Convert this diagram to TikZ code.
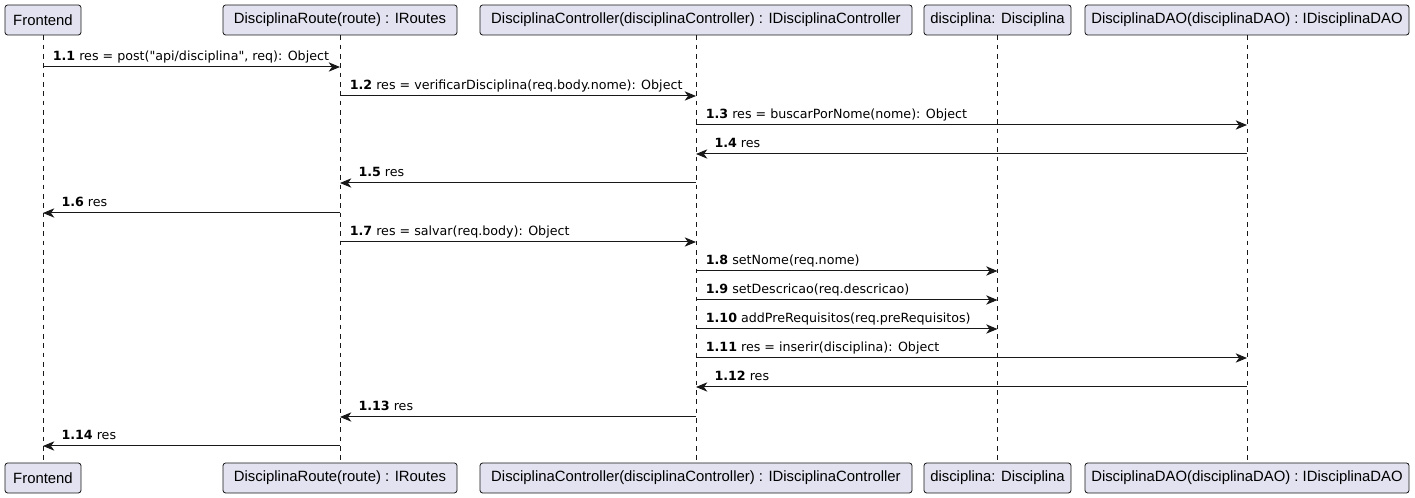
\documentclass[tikz,border=0pt]{standalone}
\usepackage{fontspec}
\setmainfont{Liberation Sans}
\newfontfamily\msgfont{DejaVu Sans}
\usetikzlibrary{arrows.meta, positioning, calc}

\definecolor{umlfill}{HTML}{E2E2F0}
\definecolor{umlline}{HTML}{181818}

\begin{document}
\begin{tikzpicture}[
    x=0.75pt, y=-0.75pt,
    part/.style={
        draw=umlline, fill=umlfill, rounded corners=2pt,
        line width=0.6pt, minimum height=30*0.75pt,
        inner xsep=0pt, font=\fontsize{11.15}{13}\selectfont
    },
    life/.style={draw=umlline, dashed, line width=0.4pt, dash pattern=on 3.5pt off 3.5pt},
    msg/.style={draw=umlline, line width=0.75pt,
        -{Stealth[length=8.5pt, width=7pt, inset=2.5pt]}},
    rlab/.style={pos=0, anchor=base west, xshift=7pt, yshift=4.5pt,
        inner sep=0pt, font=\msgfont\fontsize{9.5}{11}\selectfont},
    llab/.style={pos=1, anchor=base west, xshift=13.5pt, yshift=4.5pt,
        inner sep=0pt, font=\msgfont\fontsize{9.5}{11}\selectfont},
]
\useasboundingbox (0,0) rectangle (1415,498);

% --- participants (top row) ---
\node[part, minimum width=76*0.75pt]  (feT) at (43, 20)    {Frontend};
\node[part, minimum width=234*0.75pt] (rtT) at (340, 20)   {DisciplinaRoute(route) : IRoutes};
\node[part, minimum width=432*0.75pt] (ctT) at (696, 20)   {DisciplinaController(disciplinaController) : IDisciplinaController};
\node[part, minimum width=147*0.75pt] (dcT) at (997.5, 20) {disciplina: Disciplina};
\node[part, minimum width=324*0.75pt] (daT) at (1247, 20)  {DisciplinaDAO(disciplinaDAO) : IDisciplinaDAO};

% --- participants (bottom row) ---
\node[part, minimum width=76*0.75pt]  (feB) at (43, 478)    {Frontend};
\node[part, minimum width=234*0.75pt] (rtB) at (340, 478)   {DisciplinaRoute(route) : IRoutes};
\node[part, minimum width=432*0.75pt] (ctB) at (696, 478)   {DisciplinaController(disciplinaController) : IDisciplinaController};
\node[part, minimum width=147*0.75pt] (dcB) at (997.5, 478) {disciplina: Disciplina};
\node[part, minimum width=324*0.75pt] (daB) at (1247, 478)  {DisciplinaDAO(disciplinaDAO) : IDisciplinaDAO};

% --- lifelines ---
\foreach \p in {fe, rt, ct, dc, da}
    \draw[life] (\p T.south) -- (\p B.north);

% --- messages ---
\draw[msg] (feT |- 0,67)  -- node[rlab] {\textbf{1.1} res = post("api/disciplina", req): Object} (rtT |- 0,67);
\draw[msg] (rtT |- 0,96)  -- node[rlab] {\textbf{1.2} res = verificarDisciplina(req.body.nome): Object} (ctT |- 0,96);
\draw[msg] (ctT |- 0,125) -- node[rlab] {\textbf{1.3} res = buscarPorNome(nome): Object} (daT |- 0,125);
\draw[msg] (daT |- 0,154) -- node[llab] {\textbf{1.4} res} (ctT |- 0,154);
\draw[msg] (ctT |- 0,183) -- node[llab] {\textbf{1.5} res} (rtT |- 0,183);
\draw[msg] (rtT |- 0,213) -- node[llab] {\textbf{1.6} res} (feT |- 0,213);
\draw[msg] (rtT |- 0,242) -- node[rlab] {\textbf{1.7} res = salvar(req.body): Object} (ctT |- 0,242);
\draw[msg] (ctT |- 0,271) -- node[rlab] {\textbf{1.8} setNome(req.nome)} (dcT |- 0,271);
\draw[msg] (ctT |- 0,300) -- node[rlab] {\textbf{1.9} setDescricao(req.descricao)} (dcT |- 0,300);
\draw[msg] (ctT |- 0,329) -- node[rlab] {\textbf{1.10} addPreRequisitos(req.preRequisitos)} (dcT |- 0,329);
\draw[msg] (ctT |- 0,358) -- node[rlab] {\textbf{1.11} res = inserir(disciplina): Object} (daT |- 0,358);
\draw[msg] (daT |- 0,387) -- node[llab] {\textbf{1.12} res} (ctT |- 0,387);
\draw[msg] (ctT |- 0,417) -- node[llab] {\textbf{1.13} res} (rtT |- 0,417);
\draw[msg] (rtT |- 0,446) -- node[llab] {\textbf{1.14} res} (feT |- 0,446);

\end{tikzpicture}
\end{document}
